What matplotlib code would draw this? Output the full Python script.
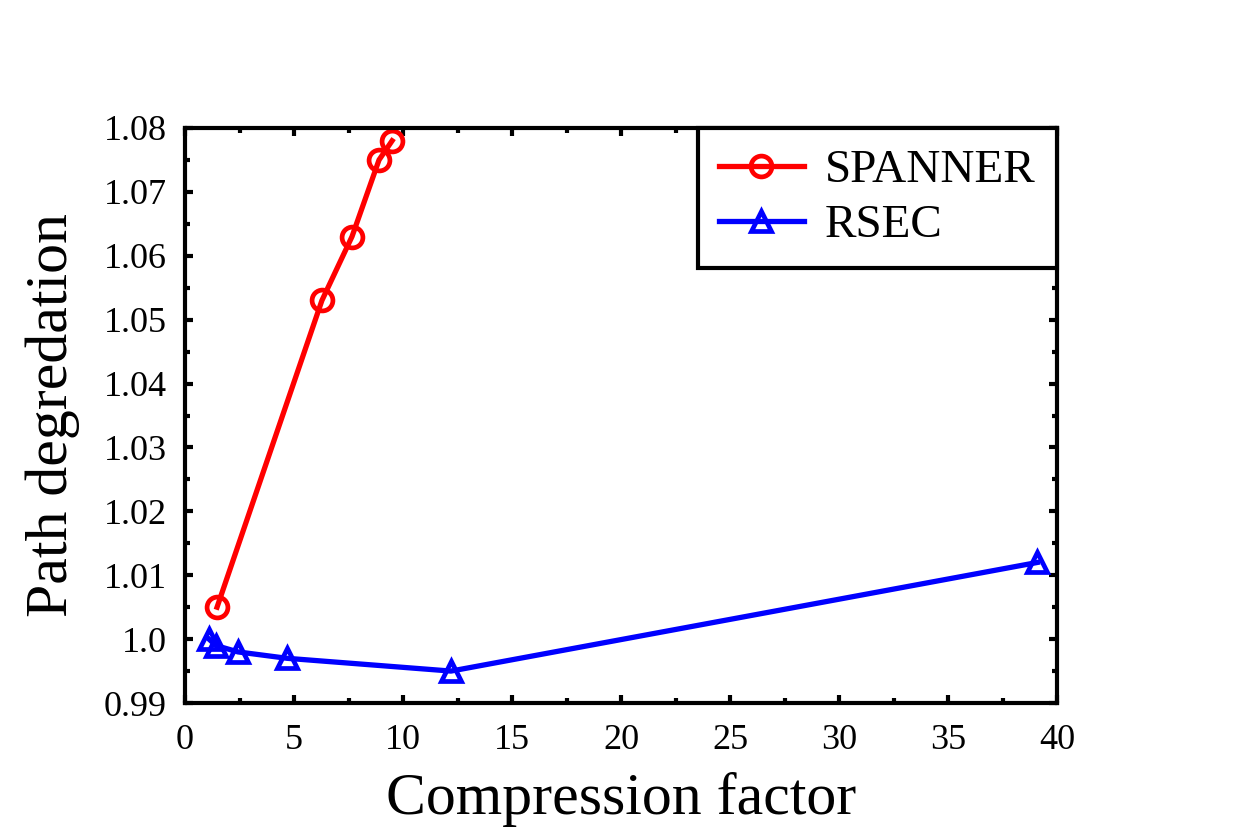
import numpy as np
import matplotlib
matplotlib.use("Agg")
import matplotlib.pyplot as plt
from matplotlib.ticker import MultipleLocator, FixedLocator, FixedFormatter

# ============================
#  DADOS
# ============================
spanner_x = [1.47, 6.28, 7.66, 8.9, 9.5]
spanner_y = [1.005, 1.053, 1.063, 1.075, 1.078]

rsec_x = [1.1, 1.42, 2.43, 4.68, 12.2, 39.1]
rsec_y = [1.000, 0.999, 0.998, 0.997, 0.995, 1.012]

y_ticks = [0.99, 1.00, 1.01, 1.02, 1.03, 1.04, 1.05, 1.06, 1.07, 1.08]
y_labels = ["0.99", "1.0", "1.01", "1.02", "1.03", "1.04", "1.05", "1.06", "1.07", "1.08"]
x_ticks = [0, 5, 10, 15, 20, 25, 30, 35, 40]

plt.rcParams["font.family"] = ["Liberation Serif", "DejaVu Serif"]

fig = plt.figure(figsize=(12.45, 8.31), dpi=100)
ax = fig.add_axes([0.1486, 0.154, 0.7004, 0.692])

ax.plot(spanner_x, spanner_y, color="#ff0000", lw=3.8, marker="o", ms=15,
        mfc="none", mew=3.4, label="SPANNER")
ax.plot(rsec_x, rsec_y, color="#0000ff", lw=3.8, marker="^", ms=15,
        mfc="none", mew=3.4, label="RSEC")

ax.set_xlim(0, 40)
ax.set_ylim(0.99, 1.08)
ax.xaxis.set_major_locator(FixedLocator(x_ticks))
ax.xaxis.set_minor_locator(MultipleLocator(2.5))
ax.yaxis.set_major_locator(FixedLocator(y_ticks))
ax.yaxis.set_major_formatter(FixedFormatter(y_labels))
ax.yaxis.set_minor_locator(MultipleLocator(0.005))

ax.tick_params(which="both", direction="in", top=True, right=True, width=3)
ax.tick_params(which="major", length=6, labelsize=26)
ax.tick_params(axis="x", which="major", pad=15)
ax.tick_params(axis="y", which="major", pad=13)
ax.tick_params(which="minor", length=3.5)
for s in ax.spines.values():
    s.set_linewidth(3)

ax.set_xlabel("Compression factor", fontsize=43, labelpad=11)
ax.set_ylabel("Path degredation", fontsize=43, labelpad=17)

leg = ax.legend(loc="upper right", fontsize=34, frameon=True, fancybox=False,
                framealpha=1, borderaxespad=0, handlelength=1.8, borderpad=0.45,
                labelspacing=0.25, handletextpad=0.45, edgecolor="black")
leg.get_frame().set_linewidth(3)

fig.savefig("out.png", dpi=100)
